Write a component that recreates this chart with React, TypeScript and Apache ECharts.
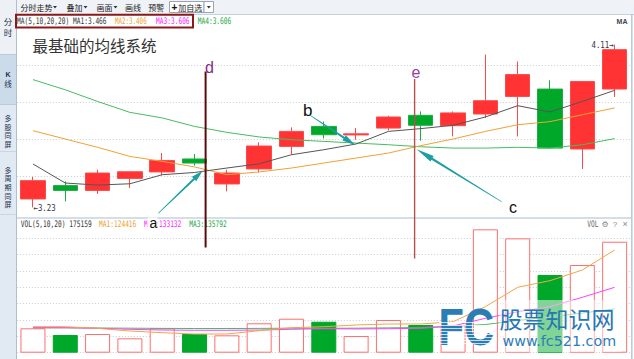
import React, { useEffect, useRef } from 'react';
import * as echarts from 'echarts';

// ---------- data ----------
const days = ['1', '2', '3', '4', '5', '6', '7', '8', '9', '10', '11', '12', '13', '14', '15', '16', '17', '18', '19'];
const openP = [3.276, 3.348, 3.322, 3.387, 3.422, 3.492, 3.357, 3.438, 3.56, 3.668, 3.622, 3.659, 3.728, 3.672, 3.735, 3.83, 3.87, 3.546, 3.87];
const closeP = [3.375, 3.322, 3.416, 3.423, 3.484, 3.47, 3.416, 3.562, 3.641, 3.623, 3.628, 3.719, 3.674, 3.741, 3.807, 3.948, 3.551, 3.911, 4.083];
const lowP = [3.23, 3.263, 3.303, 3.335, 3.403, 3.456, 3.317, 3.419, 3.515, 3.603, 3.596, 3.646, 3.591, 3.614, 3.714, 3.614, 3.549, 3.438, 3.827];
const highP = [3.395, 3.371, 3.434, 3.425, 3.524, 3.519, 3.434, 3.582, 3.663, 3.695, 3.659, 3.726, 3.749, 3.749, 4.056, 4.019, 3.917, 3.913, 4.11];
const ma1 = [3.465, 3.362, 3.351, 3.358, 3.407, 3.419, 3.443, 3.466, 3.515, 3.542, 3.573, 3.641, 3.656, 3.674, 3.719, 3.78, 3.746, 3.803, 3.863];
const ma2 = [3.645, 3.6, 3.555, 3.506, 3.479, 3.449, 3.407, 3.422, 3.443, 3.47, 3.497, 3.524, 3.564, 3.6, 3.641, 3.677, 3.694, 3.731, 3.768];
// MA3 and MA4 (both 20-day) coincide; the green MA4 line covers MA3 in the picture
const ma4 = [3.921, 3.866, 3.803, 3.744, 3.714, 3.668, 3.636, 3.611, 3.596, 3.587, 3.578, 3.569, 3.558, 3.551, 3.551, 3.555, 3.551, 3.569, 3.602];
const vol = [37300, 27100, 28600, 22000, 37300, 28600, 26600, 45000, 52000, 47400, 25500, 50000, 42400, 42400, 188800, 175000, 118900, 134200, 169800];
const volMa1 = [39800, 39800, 37300, 33200, 30600, 28600, 28600, 33700, 38300, 39800, 42400, 43900, 43900, 47400, 70400, 100100, 110200, 126500, 157100];
const volMa2 = [38300, 38300, 37300, 35800, 34700, 34300, 34300, 34700, 35800, 36700, 36300, 36700, 37300, 40900, 52600, 62700, 70400, 84800, 100100];
const volMa3 = [38000, 38000, 37800, 37500, 37200, 37000, 37000, 37200, 37500, 37300, 37500, 38000, 38500, 40500, 43100, 49300, 54600, 60700, 66900];
const priceMin = 3.2;
const priceMax = 4.2;
const priceStep = 0.2;
const volMax = 200000;
const volStep = 25000;
const maHeader = ['MA(5,10,20,20) MA1:3.466', 'MA2:3.406', 'MA3:3.606', 'MA4:3.606'];
const volHeader = ['VOL(5,10,20) 175159', 'MA1:124416', 'MA2:133132', 'MA3:135792'];
const sideTabs = ['分时', 'K线', '多股同屏', '多周期同屏'];

const RED = '#ff3333';
const GREEN = '#00a82a';
const CJK = '"Noto Sans CJK SC", sans-serif';
const MONO = '"DejaVu Sans Mono", monospace';
const SANS = '"Liberation Sans", Arial, sans-serif';

function T(x: number, y: number, text: string, o: any = {}) {
  const size = o.size ?? 8;
  const family = o.family ?? CJK;
  const weight = o.weight ?? 'normal';
  const align = o.align ?? 'left';
  const v = o.v ?? 'middle';
  const style: any = {
    text, x: 0, y: 0, fill: o.color ?? '#333',
    font: `${weight} ${size}px ${family}`,
    textAlign: align, align, textVerticalAlign: v, verticalAlign: v,
  };
  return { type: 'text', x, y, scaleX: o.sx ?? 1, z: o.z ?? 100, style };
}
function L(x1: number, y1: number, x2: number, y2: number, color: string, w = 1, z = 100) {
  return { type: 'line', z, shape: { x1, y1, x2, y2 }, style: { stroke: color, lineWidth: w } };
}
function R(x: number, y: number, w: number, h: number, fill: string, stroke?: string, z = 100, opacity = 1) {
  return { type: 'rect', z, shape: { x, y, width: w, height: h }, style: { fill, stroke: stroke ?? null, lineWidth: stroke ? 1 : 0, opacity } };
}
function tri(x: number, y: number, color = '#333') {
  return { type: 'polygon', z: 100, shape: { points: [[x, y], [x + 4, y], [x + 2, y + 2.5]] }, style: { fill: color } };
}
function arrow(x1: number, y1: number, x2: number, y2: number, color: string, headLen = 14) {
  const dx = x2 - x1, dy = y2 - y1, len = Math.hypot(dx, dy);
  const ux = dx / len, uy = dy / len, px = -uy, py = ux;
  const headW = 3.1, neckW = 1.1, tailW = 0.35;
  const nx = x2 - ux * headLen, ny = y2 - uy * headLen;
  const pts = [
    [x1 + px * tailW, y1 + py * tailW], [nx + px * neckW, ny + py * neckW], [nx + px * headW, ny + py * headW],
    [x2, y2], [nx - px * headW, ny - py * headW], [nx - px * neckW, ny - py * neckW], [x1 - px * tailW, y1 - py * tailW],
  ];
  return { type: 'polygon', z: 100, shape: { points: pts }, style: { fill: color } };
}

function buildGraphics(hi: number[], lo: number[]) {
  const g: any[] = [];
  // toolbar
  g.push(R(16, 0, 618, 14, '#eff2f7'));
  g.push(L(16, 14.5, 634, 14.5, '#c4d1de'));
  g.push(T(20.5, 7, '分时走势', { size: 8, color: '#222' }));
  g.push(tri(53, 6));
  g.push(T(66.5, 7, '叠加', { size: 8, color: '#222' }));
  g.push(tri(83.5, 6));
  g.push(T(96.5, 7, '画面', { size: 8, color: '#222' }));
  g.push(tri(113.5, 6));
  g.push(T(125, 7, '画线', { size: 8, color: '#222' }));
  g.push(T(148.3, 7, '预警', { size: 8, color: '#222' }));
  g.push(R(169.5, 1.5, 34.5, 11, '#ffffff', '#9aa4b2'));
  g.push(T(171.5, 7, '+', { size: 10, color: '#111', weight: 'bold', family: SANS }));
  g.push(T(178.3, 7, '加自选', { size: 8, color: '#222' }));
  g.push(R(204, 1.5, 9.5, 11, '#ffffff', '#9aa4b2'));
  g.push(tri(206.8, 6));
  // sidebar
  g.push(R(0, 0, 16, 359, '#e1e9f2'));
  g.push(R(0, 0, 16, 54, '#edf1f6'));
  g.push(R(0, 54, 16, 50, '#cbdbea'));
  g.push(L(0, 54.5, 16, 54.5, '#bccbdb'));
  g.push(L(0, 104.5, 16, 104.5, '#bccbdb'));
  g.push(L(0, 151.5, 16, 151.5, '#c8d5e2'));
  g.push(L(0, 214.5, 16, 214.5, '#c8d5e2'));
  g.push(L(16.5, 0, 16.5, 359, '#aebfd1'));
  const vertical = (text: string, ys: number[], size: number) =>
    text.split('').forEach((c, i) => {
      const latin = /[A-Za-z]/.test(c);
      g.push(T(8, ys[i], c, {
        size: latin ? 7 : size, align: 'center', color: '#1a3050',
        weight: latin ? 'bold' : 'normal', family: latin ? SANS : CJK,
      }));
    });
  vertical(sideTabs[0], [21, 31.5], 8.5);
  vertical(sideTabs[1], [74.5, 83.7], 7.5);
  vertical(sideTabs[2], [118, 126.7, 135.3, 143.9], 7);
  vertical(sideTabs[3], [169.8, 178.4, 187, 195.6, 204.2], 7);
  // panel frame
  g.push(L(17, 218, 631, 218, '#c6d3e0', 1.5));
  g.push(L(631.8, 14, 631.8, 359, '#b6c9dc', 1.5));
  // price header
  g.push(T(17, 21.5, maHeader[0], { size: 9, family: MONO, sx: 0.69, color: '#333' }));
  g.push(T(115, 21.5, maHeader[1], { size: 9, family: MONO, sx: 0.65, color: '#f0a030' }));
  g.push(T(156, 21.5, maHeader[2], { size: 9, family: MONO, sx: 0.69, color: '#ff22ff' }));
  g.push(T(197.7, 21.5, maHeader[3], { size: 9, family: MONO, sx: 0.69, color: '#22a844' }));
  g.push({ type: 'rect', z: 101, shape: { x: 16, y: 14.8, width: 177, height: 12.6 }, style: { fill: null, stroke: '#8a1a1a', lineWidth: 2 } });
  g.push(T(622, 21, 'MA', { size: 7, align: 'center', weight: 'bold', family: SANS, color: '#3a4658' }));
  g.push(T(32.5, 45, '最基础的均线系统', { size: 15.5, color: '#333' }));
  // high / low marks
  g.push(T(hi[0] - 1, hi[1], '4.11→', { size: 9, family: MONO, sx: 0.82, align: 'right', color: '#334' }));
  g.push(T(lo[0] + 0.5, lo[1], '←3.23', { size: 9, family: MONO, sx: 0.82, color: '#334' }));
  // volume header
  g.push(T(20.7, 224, volHeader[0], { size: 9, family: MONO, sx: 0.69, color: '#333' }));
  g.push(T(99, 224, volHeader[1], { size: 9, family: MONO, sx: 0.69, color: '#f0a030' }));
  g.push(T(144, 224, volHeader[2], { size: 9, family: MONO, sx: 0.69, color: '#ff22ff' }));
  g.push(T(189.3, 224, volHeader[3], { size: 9, family: MONO, sx: 0.69, color: '#22a844' }));
  g.push(T(587.3, 224, 'VOL', { size: 9, family: MONO, sx: 0.69, color: '#666' }));
  g.push(T(605, 224, '⚙', { size: 8, family: '"DejaVu Sans"', align: 'center', color: '#888' }));
  g.push(T(615, 224, '?', { size: 8, family: SANS, align: 'center', color: '#888' }));
  g.push(T(625, 224, '×', { size: 9, family: SANS, align: 'center', color: '#888' }));
  // annotation lines
  g.push(L(205.6, 71.5, 205.6, 247.5, '#5c0a0a', 2));
  g.push(L(414.6, 79, 414.6, 258.5, '#b55050', 1.4));
  g.push(T(205, 67.7, 'd', { size: 16, family: SANS, color: '#862a86' }));
  g.push(T(411.5, 72.7, 'e', { size: 16, family: SANS, color: '#9a3e9a' }));
  g.push(T(303, 110.4, 'b', { size: 17, family: SANS, color: '#111' }));
  g.push(T(509, 207.6, 'c', { size: 16, family: SANS, color: '#111' }));
  g.push(arrow(158.3, 213.3, 202.7, 170.7, '#1d9ea2', 12));
  g.push(arrow(309, 114.5, 355, 145, '#1d9ea2', 13));
  g.push(arrow(501.7, 201.7, 416.7, 149.3, '#1d9ea2', 18));
  g.push(R(147.5, 217.5, 10, 11, '#ffffff', undefined, 101));
  g.push({ ...T(149.5, 222.5, 'a', { size: 14, family: SANS, color: '#111' }), z: 102 });
  // watermark
  g.push(R(499, 300, 122, 52, '#ffffff', undefined, 95, 0.5));
  g.push(T(438.5, 327, 'FC', { size: 52, family: SANS, weight: 'bold', sx: 0.8, color: '#2b7db6' }));
  for (let k = 0; k < 8; k++) g.push(L(439, 322.5 + k * 3, 496, 322.5 + k * 3, 'rgba(255,255,255,0.75)', 1, 101));
  g.push(T(499.5, 318, '股票知识网', { size: 23, color: '#2677b6' }));
  g.push(T(502.5, 341, 'www.fc521.com', { size: 14.3, family: '"DejaVu Sans"', color: '#2b7db8' }));
  return g;
}

function buildOption() {
  const hiddenX = (gi: number) => ({
    type: 'category', data: days, gridIndex: gi, boundaryGap: true,
    axisLine: { show: false }, axisTick: { show: false }, axisLabel: { show: false }, splitLine: { show: false },
  });
  const grid = { color: '#c3cad5', type: [1, 2] as any, width: 1 };
  const candleData = days.map((_, i) => [openP[i], closeP[i], lowP[i], highP[i]]);
  const volData = vol.map((v, i) => ({
    value: v,
    itemStyle: closeP[i] >= openP[i]
      ? { color: '#ffffff', borderColor: '#ff6f6f', borderWidth: 1 }
      : { color: GREEN, borderColor: GREEN, borderWidth: 1 },
  }));
  const lineS = (data: number[], color: string, xi: number) => ({
    type: 'line', data, xAxisIndex: xi, yAxisIndex: xi, symbol: 'none', silent: true,
    lineStyle: { color, width: 1 }, itemStyle: { color },
  });
  return {
    animation: false,
    backgroundColor: '#ffffff',
    grid: [
      { left: 16.8, right: 3.2, top: 28, height: 185 },
      { left: 16.8, right: 3.2, top: 222, height: 130.7 },
    ],
    xAxis: [hiddenX(0), hiddenX(1)],
    yAxis: [
      {
        type: 'value', gridIndex: 0, min: priceMin, max: priceMax, interval: priceStep, scale: true,
        axisLine: { show: false }, axisTick: { show: false }, axisLabel: { show: false },
        splitLine: { show: true, showMinLine: false, showMaxLine: false, lineStyle: grid },
      },
      {
        type: 'value', gridIndex: 1, min: 0, max: volMax, interval: volStep,
        axisLine: { show: false }, axisTick: { show: false }, axisLabel: { show: false },
        splitLine: { show: true, showMaxLine: false, lineStyle: grid },
      },
    ],
    series: [
      {
        type: 'candlestick', data: candleData, xAxisIndex: 0, yAxisIndex: 0, barWidth: 25,
        itemStyle: { color: RED, color0: GREEN, borderColor: '#ff4848', borderColor0: '#1cae42', borderWidth: 1 },
      },
      lineS(ma4, '#45bd5f', 0),
      lineS(ma2, '#f2a035', 0),
      lineS(ma1, '#555555', 0),
      { type: 'bar', data: volData, xAxisIndex: 1, yAxisIndex: 1, barWidth: 25 },
      lineS(volMa3, '#4cb868', 1),
      lineS(volMa2, '#ff40ff', 1),
      lineS(volMa1, '#f2a548', 1),
    ],
  };
}

export default function App() {
  const ref = useRef<HTMLDivElement>(null);
  useEffect(() => {
    const chart = echarts.init(ref.current as HTMLDivElement, null, { renderer: 'svg' });
    chart.setOption(buildOption() as any);
    const last = highP.length - 1;
    const hi = chart.convertToPixel({ gridIndex: 0 } as any, [last, highP[last]]) as number[];
    const lo = chart.convertToPixel({ gridIndex: 0 } as any, [0, lowP[0]]) as number[];
    chart.setOption({ graphic: { elements: buildGraphics(hi, lo) } } as any);
    return () => chart.dispose();
  }, []);
  return <div ref={ref} style={{ position: 'fixed', left: 0, top: 0, width: 634, height: 359 }} />;
}
